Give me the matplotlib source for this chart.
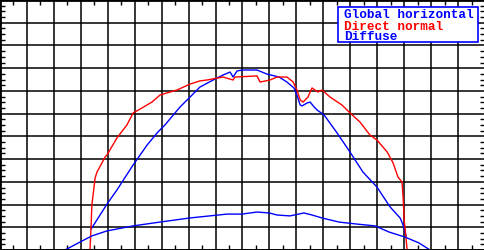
import matplotlib
matplotlib.use("Agg")
import matplotlib.pyplot as plt
from matplotlib.ticker import MultipleLocator
from matplotlib.patches import Rectangle

# Hour of day
direct_t = [6.34, 6.38, 6.41, 6.53, 6.60, 6.90, 6.97, 7.34, 7.71, 7.94, 8.27, 8.64, 8.94, 9.57,
            10.05, 10.42, 10.68, 11.28, 11.65, 11.72, 12.54, 12.65, 13.02, 13.28, 13.65, 13.88,
            14.02, 14.14, 14.25, 14.43, 14.58, 14.80, 14.95, 15.25, 15.69, 15.99, 16.36, 16.73,
            16.99, 17.37, 17.59, 17.77, 17.92, 17.96, 18.00, 18.03, 18.11]
direct_v = [0, 101, 198, 317, 343, 409, 418, 493, 550, 603, 625, 651, 682, 704,
            730, 744, 748, 761, 748, 761, 766, 739, 748, 761, 761, 739,
            704, 660, 651, 673, 713, 695, 704, 673, 638, 603, 563, 506,
            484, 431, 383, 321, 299, 233, 132, 101, 0]

global_t = [6.38, 6.97, 7.34, 7.53, 7.94, 8.46, 8.86, 9.12, 9.68, 10.02, 10.42, 10.91, 11.28,
            11.54, 11.65, 11.80, 12.02, 12.54, 12.91, 13.36, 13.65, 13.91, 14.02, 14.14, 14.21,
            14.40, 14.51, 14.66, 14.77, 15.03, 15.51, 15.99, 16.47, 16.99, 17.48, 17.85, 17.96,
            18.03, 18.07]
global_v = [92, 202, 264, 299, 374, 462, 519, 550, 629, 669, 717, 748, 770,
            783, 761, 788, 792, 792, 774, 761, 739, 713, 682, 638, 634,
            647, 651, 629, 616, 594, 515, 431, 343, 277, 189, 141, 110,
            79, 62]

diffuse_t = [5.41, 5.97, 6.41, 6.97, 7.94, 8.94, 10.05, 11.43, 11.98, 12.54, 12.99, 13.28,
             13.76, 14.28, 14.58, 14.95, 15.58, 16.25, 16.92, 17.44, 18.03, 18.55, 18.96]
diffuse_v = [0, 35, 62, 84, 106, 123, 141, 158, 158, 167, 163, 154,
             150, 163, 154, 141, 123, 114, 106, 79, 57, 31, 0]

labels = ["Global horizontal", "Direct normal", "Diffuse"]
colors = ["#0000ff", "#ff0000", "#0000ff"]

W, H = 485, 250
fig = plt.figure(figsize=(W / 100, H / 100), dpi=100)
ax = fig.add_axes([0, 0, 1, 1])

ax.plot(global_t, global_v, color=colors[0], lw=1.0)
ax.plot(direct_t, direct_v, color=colors[1], lw=1.0)
ax.plot(diffuse_t, diffuse_v, color=colors[2], lw=1.0)

ax.set_xlim(3, 21)
ax.set_ylim(0, 1100)
ax.xaxis.set_major_locator(MultipleLocator(1))
ax.xaxis.set_minor_locator(MultipleLocator(0.5))
ax.yaxis.set_major_locator(MultipleLocator(100))
ax.yaxis.set_minor_locator(MultipleLocator(25))
ax.grid(True, which="major", color="black", lw=1.1)
ax.set_axisbelow(True)
ax.tick_params(which="both", direction="in", top=True, right=True,
               labelbottom=False, labelleft=False)
ax.tick_params(which="major", length=0)
ax.tick_params(which="minor", length=3.5, width=1.0, color="black")
for s in ax.spines.values():
    s.set_linewidth(2.0)
    s.set_color("black")

# legend box (pixel geometry converted to axes fraction)
box = Rectangle((338 / W, 1 - 42 / H), 140 / W, 35 / H, transform=ax.transAxes,
                facecolor="white", edgecolor="#0000ff", lw=1.2, zorder=5)
ax.add_patch(box)
for i, (lab, c) in enumerate(zip(labels, colors)):
    ax.text(344 / W, 1 - (18.5 + 11 * i) / H, lab, transform=ax.transAxes,
            color=c, family="Liberation Mono", weight="bold", fontsize=9.2,
            va="baseline", ha="left", zorder=6)

fig.savefig("out.png", dpi=100)
